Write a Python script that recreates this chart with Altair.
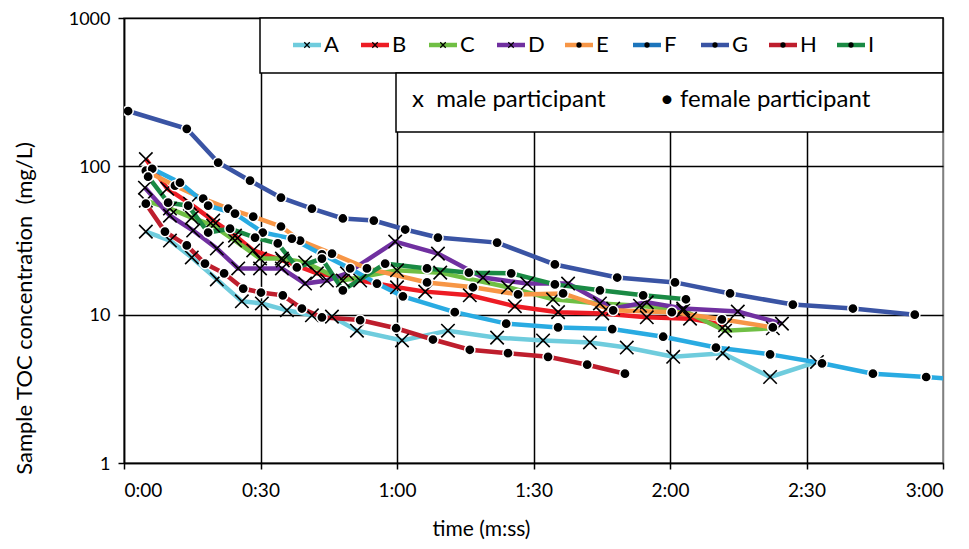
import altair as alt
import pandas as pd

series = ["A", "B", "C", "D", "E", "F", "G", "H", "I"]
colors = ["#6FCCDD", "#ED1C24", "#70BF44", "#7030A0", "#F79646",
          "#29ABE2", "#3A54A4", "#BE1E2D", "#1A8A44"]
legend_colors = ["#6FCCDD", "#ED1C24", "#70BF44", "#7030A0", "#F79646",
                 "#1C75BC", "#3A54A4", "#BE1E2D", "#1A8A44"]
male = ["A", "B", "C", "D"]

# time in seconds, TOC in mg/L
A_t = [4.8, 10.1, 14.9, 20.4, 25.9, 30.3, 35.8, 41.3, 45.7, 51.2, 61.1, 71.2, 82.0, 92.1, 102.4, 110.5, 120.7, 131.6, 142.0, 152.3]
A_v = [36.3, 31.6, 24.3, 17.3, 12.3, 11.9, 10.7, 9.9, 9.7, 7.8, 6.7, 7.8, 7.0, 6.7, 6.5, 6.0, 5.2, 5.5, 3.8, 4.8]
B_t = [4.8, 9.5, 14.5, 19.6, 24.4, 28.4, 34.9, 42.4, 51.9, 60.0, 66.2, 76.0, 85.9, 95.4, 105.1, 114.9, 124.4, 132.1]
B_v = [112, 70.7, 56.0, 43.1, 34.1, 27.1, 23.2, 19.0, 17.0, 15.3, 14.3, 13.5, 11.4, 10.4, 10.2, 9.6, 9.4, 8.5]
C_t = [4.8, 10.1, 14.9, 19.6, 24.4, 29.9, 34.7, 39.8, 48.1, 60.0, 69.5, 84.4, 94.3, 104.6, 113.4, 122.9, 132.1, 142.6]
C_v = [58.7, 51.9, 45.1, 39.9, 31.6, 23.9, 23.9, 22.5, 17.0, 19.9, 19.2, 15.3, 12.7, 11.9, 11.5, 10.7, 7.8, 8.1]
D_t = [4.6, 10.1, 15.2, 20.4, 25.1, 29.9, 34.7, 39.8, 44.6, 49.0, 59.6, 69.0, 78.9, 88.6, 97.6, 107.5, 114.9, 122.9, 134.9, 144.6]
D_v = [71.8, 46.5, 36.9, 27.9, 20.5, 20.5, 20.5, 16.2, 17.0, 19.0, 31.1, 25.8, 17.8, 16.2, 16.2, 11.0, 12.1, 11.0, 10.5, 8.7]
E_t = [4.8, 11.2, 17.4, 22.9, 28.4, 34.5, 38.7, 45.7, 53.4, 66.6, 76.7, 86.6, 96.5, 107.5, 120.4, 131.4, 142.6]
E_v = [93.4, 74.1, 60.5, 51.9, 45.8, 39.3, 31.6, 25.8, 20.5, 16.5, 15.3, 13.7, 13.9, 10.7, 10.4, 9.3, 8.2]
F_t = [6.2, 12.3, 18.5, 24.4, 30.5, 36.9, 43.5, 49.7, 55.6, 61.3, 72.7, 84.0, 95.4, 107.3, 118.5, 130.1, 142.0, 153.4, 164.6, 176.3, 186.0]
F_v = [96.3, 77.6, 54.3, 48.0, 35.8, 32.6, 25.5, 20.5, 16.2, 13.3, 10.4, 8.7, 8.2, 8.0, 7.1, 6.0, 5.4, 4.7, 4.0, 3.8, 3.6]
G_t = [0.9, 13.8, 20.7, 27.7, 34.5, 41.3, 48.1, 54.9, 61.8, 69.0, 82.0, 94.7, 108.4, 121.1, 133.2, 147.0, 160.2, 173.8]
G_v = [236, 179, 106, 80, 61.5, 51.9, 44.5, 43.1, 37.5, 33.1, 30.6, 21.8, 17.8, 16.5, 13.9, 11.7, 11.0, 10.0]
H_t = [4.8, 9.0, 13.8, 17.8, 22.0, 26.2, 30.1, 34.9, 39.1, 43.5, 51.9, 59.8, 67.9, 76.0, 84.4, 93.2, 101.8, 110.1]
H_v = [56.0, 36.3, 29.3, 22.1, 19.0, 15.0, 14.1, 13.5, 11.0, 9.6, 9.2, 8.1, 6.8, 5.8, 5.5, 5.2, 4.6, 4.0]
I_t = [5.3, 9.7, 14.1, 18.5, 23.3, 28.8, 33.8, 38.0, 43.5, 48.1, 57.4, 66.6, 75.8, 85.1, 94.7, 104.6, 114.1, 123.5]
I_v = [85.1, 56.9, 54.3, 35.8, 38.0, 33.1, 30.2, 20.8, 23.9, 14.6, 22.1, 20.5, 19.2, 19.0, 16.0, 14.6, 13.5, 12.7]

x_ticks = [0, 30, 60, 90, 120, 150, 180]
y_ticks = [1, 10, 100, 1000]

data = {"A": (A_t, A_v), "B": (B_t, B_v), "C": (C_t, C_v), "D": (D_t, D_v),
        "E": (E_t, E_v), "F": (F_t, F_v), "G": (G_t, G_v), "H": (H_t, H_v),
        "I": (I_t, I_v)}
rows = []
for s in series:
    ts, vs = data[s]
    for t, v in zip(ts, vs):
        rows.append({"series": s, "t": t, "v": v, "sex": "m" if s in male else "f"})
df = pd.DataFrame(rows)

FONT = "Lato"
W, H = 819, 445

xenc = alt.X("t:Q", scale=alt.Scale(domain=[0, 180], nice=False),
             axis=alt.Axis(values=x_ticks, title="time (m:ss)",
                           labelExpr="floor(datum.value/60) + ':' + (datum.value%60 < 10 ? '0' : '') + (datum.value%60)",
                           grid=True,
                           gridColor={"condition": {"test": "datum.value === 180", "value": "#808080"}, "value": "black"},
                           gridWidth=1.5, domainColor="black", domainWidth=1.5,
                           tickColor="black", tickWidth=1.5, tickSize=6,
                           labelFont=FONT, labelFontSize=19, labelColor="black", labelPadding=12,
                           titleFont=FONT, titleFontSize=21, titleFontWeight="normal", titleColor="black",
                           titleX=357, titleY=66, titleBaseline="middle"))
yenc = alt.Y("v:Q", scale=alt.Scale(type="log", domain=[1, 1000], nice=False),
             axis=alt.Axis(values=y_ticks, format="d",
                           title="Sample TOC concentration\u00a0\u00a0(mg/L)",
                           grid=True, gridColor="black", gridWidth=1.5,
                           domainColor="black", domainWidth=1.5,
                           tickColor="black", tickWidth=1.5, tickSize=6,
                           labelFont=FONT, labelFontSize=18, labelColor="black", labelPadding=8,
                           labelOffset=1,
                           titleFont=FONT, titleFontSize=22, titleFontWeight="normal", titleColor="black",
                           titleX=-100, titleY=290, titleBaseline="middle"))
cenc = alt.Color("series:N", scale=alt.Scale(domain=series, range=colors), legend=None)

base = alt.Chart(df)
lines = base.mark_line(strokeWidth=4.5, clip=True).encode(x=xenc, y=yenc, color=cenc)
males = base.transform_filter("datum.sex === 'm'").mark_point(
    shape="M-1,-1L1,1M1,-1L-1,1", filled=False, color="black", strokeWidth=1.6,
    size=180, opacity=1, clip=True).encode(x="t:Q", y="v:Q")
females = base.transform_filter("datum.sex === 'f'").mark_circle(
    color="black", stroke="white", strokeWidth=1.5, size=105, opacity=1, clip=True).encode(x="t:Q", y="v:Q")

dummy = alt.Chart(pd.DataFrame({"k": [0]}))
box1 = dummy.mark_rect(fill="white", stroke="black", strokeWidth=1.5).encode(
    x=alt.value(136), x2=alt.value(819), y=alt.value(0), y2=alt.value(55))
box2 = dummy.mark_rect(fill="white", stroke="black", strokeWidth=1.5).encode(
    x=alt.value(272), x2=alt.value(819), y=alt.value(55), y2=alt.value(114))
txt_m = dummy.mark_text(text="x\u00a0\u00a0male participant", align="left", baseline="middle",
                        font=FONT, fontSize=24, color="black").encode(x=alt.value(288), y=alt.value(82))
txt_f = dummy.mark_text(text="\u2022 female participant", align="left", baseline="middle",
                        font=FONT, fontSize=24, color="black").encode(x=alt.value(536), y=alt.value(82))

layers = [box1, box2, txt_m, txt_f]
for i, s in enumerate(series):
    lx = 169 + 68 * i
    layers.append(dummy.mark_rule(strokeWidth=4.5, color=legend_colors[i]).encode(
        x=alt.value(lx), x2=alt.value(lx + 28), y=alt.value(27)))
    if s in male:
        layers.append(dummy.mark_point(shape="M-1,-1L1,1M1,-1L-1,1", filled=False, color="black",
                                       strokeWidth=1.2, size=30, opacity=1).encode(
            x=alt.value(lx + 14), y=alt.value(27)))
    else:
        layers.append(dummy.mark_circle(color="black", size=28, opacity=1).encode(
            x=alt.value(lx + 14), y=alt.value(27)))
    layers.append(dummy.mark_text(text=s, align="left", baseline="middle", font=FONT,
                                  fontSize=22, color="black").encode(
        x=alt.value(lx + 31), y=alt.value(27)))

chart = alt.layer(lines, males, females, *layers).properties(
    width=W, height=H,
    padding={"left": 116, "top": 10, "right": 18, "bottom": 78},
    autosize=alt.AutoSizeParams(type="none"),
    background="white",
).configure_view(stroke="#808080", strokeWidth=1.5)

chart.save("out.html", embed_options={"renderer": "svg", "actions": False})
